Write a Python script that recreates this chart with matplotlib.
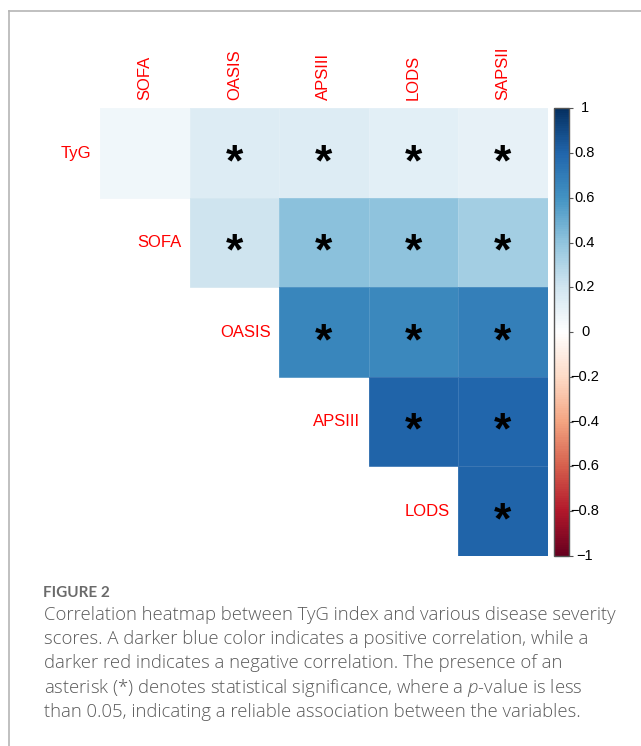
import numpy as np
import matplotlib.pyplot as plt
from matplotlib.colors import LinearSegmentedColormap
from matplotlib.lines import Line2D
from matplotlib import transforms

plt.rcParams["mathtext.fontset"] = "custom"
plt.rcParams["mathtext.rm"] = "Open Sans"
plt.rcParams["mathtext.it"] = "Open Sans:italic:light"

W, H = 641, 746

row_names = ["TyG", "SOFA", "OASIS", "APSIII", "LODS"]
col_names = ["SOFA", "OASIS", "APSIII", "LODS", "SAPSII"]

# upper triangle of the correlation matrix, one list per row
r_tyg = [0.06, 0.14, 0.14, 0.12, 0.10]
r_sofa = [0.20, 0.41, 0.40, 0.34]
r_oasis = [0.65, 0.64, 0.68]
r_apsiii = [0.80, 0.79]
r_lods = [0.80]

# p < 0.05 flags, same layout
s_tyg = [False, True, True, True, True]
s_sofa = [True, True, True, True]
s_oasis = [True, True, True]
s_apsiii = [True, True]
s_lods = [True]

cbar_ticks = [1, 0.8, 0.6, 0.4, 0.2, 0, -0.2, -0.4, -0.6, -0.8, -1]

caption_head = "FIGURE 2"
caption_lines = [
    "Correlation heatmap between TyG index and various disease severity",
    "scores. A darker blue color indicates a positive correlation, while a",
    "darker red indicates a negative correlation. The presence of an",
    r"asterisk (*) denotes statistical significance, where a $p$-value is less",
    "than 0.05, indicating a reliable association between the variables.",
]

rows = [r_tyg, r_sofa, r_oasis, r_apsiii, r_lods]
sigs = [s_tyg, s_sofa, s_oasis, s_apsiii, s_lods]
n = len(row_names)
corr = np.full((n, n), np.nan)
sig = np.zeros((n, n), dtype=bool)
for i in range(n):
    corr[i, i:] = rows[i]
    sig[i, i:] = sigs[i]

# corrplot-style RdBu palette (white in the middle)
cmap = LinearSegmentedColormap.from_list(
    "rdbu2",
    ["#67001F", "#B2182B", "#D6604D", "#F4A582", "#FDDBC7", "#FFFFFF",
     "#D1E5F0", "#92C5DE", "#4393C3", "#2166AC", "#053061"],
    N=200,
)


def fbox(left, top, right, bottom):
    return [left / W, 1 - bottom / H, (right - left) / W, (bottom - top) / H]


fig = plt.figure(figsize=(W / 100, H / 100), dpi=100)

# panel frame
fig.add_artist(Line2D([9 / W, 9 / W], [0, 1 - 11 / H], transform=fig.transFigure,
                      color="#b5b5b5", lw=1.2))
fig.add_artist(Line2D([9 / W, 1], [1 - 11 / H, 1 - 11 / H], transform=fig.transFigure,
                      color="#b5b5b5", lw=1.2))

ax = fig.add_axes(fbox(100, 108.3, 547.5, 556))
mesh = ax.pcolormesh(np.ma.masked_invalid(corr), cmap=cmap, vmin=-1, vmax=1,
                     edgecolors=(1, 1, 1, 0.12), linewidth=0.4)
ax.set_xlim(0, n)
ax.set_ylim(n, 0)
ax.axis("off")

star_tr = transforms.offset_copy(ax.transData, fig=fig, y=-7.5, units="points")
for i in range(n):
    for j in range(i, n):
        if sig[i, j]:
            ax.text(j + 0.5, i + 0.5, "*", transform=star_tr, ha="center", va="center",
                    fontsize=32, fontweight="bold", family="Liberation Sans", color="black")

label_kw = dict(color="#FF0000", fontsize=12, family="Liberation Sans")
lab_tr = transforms.offset_copy(ax.transData, fig=fig, x=-6, units="points")
for i, name in enumerate(row_names):
    ax.text(i, i + 0.5, name, transform=lab_tr, ha="right", va="center", **label_kw)
col_tr = transforms.offset_copy(ax.transData, fig=fig, y=6, units="points")
for j, name in enumerate(col_names):
    ax.text(j + 0.5, 0, name, transform=col_tr, ha="center", va="bottom",
            rotation=90, **label_kw)

# colour legend
cax = fig.add_axes(fbox(553.5, 108.3, 569, 556))
cb = fig.colorbar(mesh, cax=cax, ticks=cbar_ticks)
cb.outline.set_edgecolor("#555555")
cb.outline.set_linewidth(1.0)
cax.tick_params(axis="y", length=3, width=0.8, color="#555555", labelright=False)
lab_tr2 = transforms.blended_transform_factory(fig.transFigure, cax.transData)
for t in cbar_ticks:
    s = "{:g}".format(t).replace("-", "\u2212")
    cax.text(585 / W, t, s, transform=lab_tr2, ha="center", va="center",
             fontsize=10.5, family="Liberation Sans", color="black")

# caption
fig.text(43 / W, 1 - 597 / H, caption_head, fontsize=11, fontweight="bold",
         family="Lato", color="#6a6a6a", va="baseline")
for k, line in enumerate(caption_lines):
    fig.text(44 / W, 1 - (620 + 24.25 * k) / H, line, fontsize=13.3, family="Open Sans",
             fontweight="light", color="#595959", va="baseline")

fig.savefig("out.png", dpi=100)
